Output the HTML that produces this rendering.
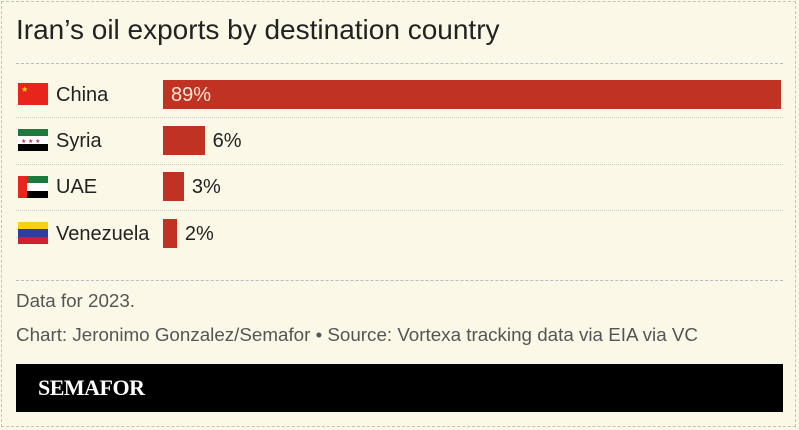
<!DOCTYPE html>
<html><head><meta charset="utf-8"><style>
body{margin:0;width:799px;height:430px;background:#fbf8e8;font-family:"Liberation Sans",sans-serif;overflow:hidden;position:relative}
.frame{position:absolute;left:1px;top:1px;width:795px;height:426px;border:1px dashed #c8c4b0;box-sizing:border-box}
.title{position:absolute;left:16px;top:14px;font-size:28px;color:#222}
.hr{position:absolute;left:16px;width:767px;border-top:1px dashed #bbb}
.dot{position:absolute;left:16px;width:767px;border-top:1px dotted #ccc}
.lbl{position:absolute;left:56px;font-size:20px;color:#222}
.val{position:absolute;font-size:20px;color:#222}
.bar{position:absolute;background:#c03222}
.note{position:absolute;left:16px;font-size:18.8px;color:#555}
.black{position:absolute;left:16px;top:364px;width:767px;height:48px;background:#000}
.logo{position:absolute;left:38px;top:375px;font-family:"Liberation Serif",serif;font-weight:bold;font-size:22px;color:#fff;letter-spacing:-0.5px}
svg.flag{position:absolute;left:18px;width:30px;height:22px}
</style></head><body>
<div class="frame"></div>
<div class="title">Iran’s oil exports by destination country</div>
<div class="hr" style="top:63px"></div>
<div class="dot" style="top:117px"></div>
<div class="dot" style="top:164px"></div>
<div class="dot" style="top:210px"></div>
<svg class="flag" style="top:83px" viewBox="0 0 30 22"><rect width="30" height="22" fill="#e8251c"/><text x="3" y="9" font-size="8" fill="#ffde00">★</text></svg>
<svg class="flag" style="top:129px" viewBox="0 0 30 22"><rect width="30" height="7" fill="#1e7a3c"/><rect y="7" width="30" height="8" fill="#fff"/><rect y="15" width="30" height="7" fill="#000"/><text x="3" y="14" font-size="6" fill="#c03060">★ ★ ★</text></svg>
<svg class="flag" style="top:176px" viewBox="0 0 30 22"><rect width="30" height="7" fill="#1e7a3c"/><rect y="7" width="30" height="8" fill="#fff"/><rect y="15" width="30" height="7" fill="#000"/><rect width="9" height="22" fill="#e8251c"/></svg>
<svg class="flag" style="top:222px" viewBox="0 0 30 22"><rect width="30" height="7" fill="#f7d116"/><rect y="7" width="30" height="8" fill="#2a3fa0"/><rect y="15" width="30" height="7" fill="#d02030"/></svg>
<div id="chart"></div>
<div class="hr" style="top:280px"></div>
<div class="note" style="top:290px">Data for 2023.</div>
<div class="note" style="top:324px">Chart: Jeronimo Gonzalez/Semafor • Source: Vortexa tracking data via EIA via VC</div>
<div class="black"></div>
<div class="logo">SEMAFOR</div>
<script>
const countries=["China","Syria","UAE","Venezuela"];
const shares=[89,6,3,2];
const x0=163,pxPer=618/89,rowTop=[80,126,172,219],barH=29;
const c=document.getElementById('chart');
countries.forEach((n,i)=>{
 const y=rowTop[i];
 const l=document.createElement('div');l.className='lbl';l.style.top=(y+4)+'px';l.textContent=n;
 
 
 c.appendChild(l);
 const w=shares[i]*pxPer;
 const b=document.createElement('div');b.className='bar';
 b.style.left=x0+'px';b.style.top=y+'px';b.style.width=w+'px';b.style.height=barH+'px';
 
 
 c.appendChild(b);
 const v=document.createElement('div');v.className='val';v.textContent=shares[i]+'%';v.style.top=(y+4)+'px';
 if(w>100){v.style.left=(x0+8)+'px';v.style.color='#fbe8d8';}else{v.style.left=(x0+w+8)+'px';}
 
 
 c.appendChild(v);
});
</script>
</body></html>
